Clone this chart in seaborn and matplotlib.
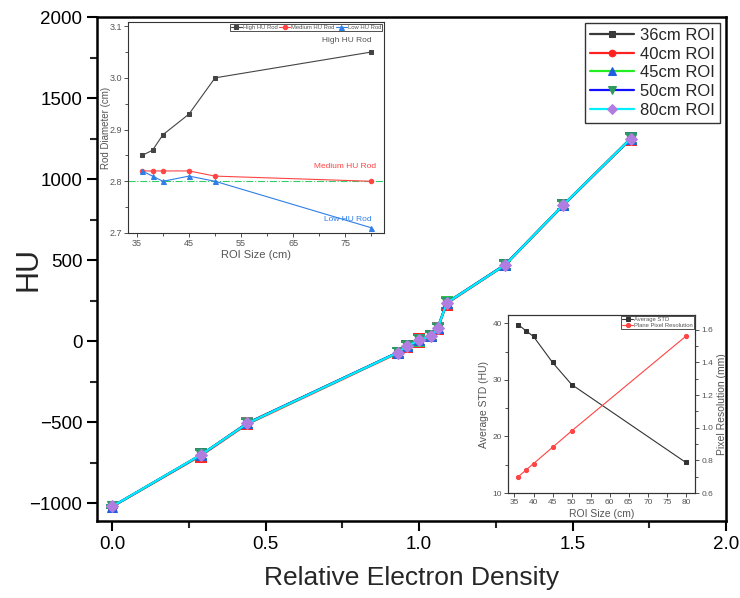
import matplotlib
matplotlib.use("Agg")
import matplotlib.pyplot as plt
import seaborn as sns
from matplotlib.ticker import MultipleLocator

sns.set_theme(style="ticks")
plt.rcParams["font.family"] = ["Liberation Sans", "DejaVu Sans"]

# ---------------- main chart data ----------------
red = [0.00, 0.29, 0.44, 0.93, 0.96, 1.00, 1.04, 1.06, 1.09, 1.28, 1.47, 1.69]
hu_36 = [-1020, -700, -505, -70, -30, 8, 35, 80, 238, 472, 842, 1252]
hu_40 = [-1022, -705, -512, -74, -34, 4, 30, 76, 232, 468, 838, 1248]
hu_45 = [-1021, -702, -508, -71, -31, 6, 33, 78, 236, 470, 840, 1250]
hu_50 = [-1020, -701, -507, -70, -30, 6, 33, 79, 236, 471, 840, 1250]
hu_80 = [-1020, -700, -508, -71, -31, 5, 33, 78, 236, 470, 841, 1250]
err_36 = [10, 35, 30, 30, 30, 35, 30, 30, 35, 30, 30, 35]
err_40 = [10, 38, 32, 32, 32, 38, 32, 32, 38, 32, 32, 38]
err_45 = [10, 34, 29, 29, 29, 34, 29, 29, 34, 29, 29, 34]
err_50 = [10, 33, 28, 28, 28, 33, 28, 28, 33, 28, 28, 33]
err_80 = [10, 30, 26, 26, 26, 30, 26, 26, 30, 26, 26, 30]
series_labels = ["36cm ROI", "40cm ROI", "45cm ROI", "50cm ROI", "80cm ROI"]

# ---------------- inset 1 data ----------------
roi = [36, 38, 40, 45, 50, 80]
high_rod = [2.85, 2.86, 2.89, 2.93, 3.00, 3.05]
medium_rod = [2.82, 2.82, 2.82, 2.82, 2.81, 2.80]
low_rod = [2.82, 2.81, 2.80, 2.81, 2.80, 2.71]
nominal_diameter = 2.80

# ---------------- inset 2 data ----------------
avg_std = [39.8, 38.7, 37.7, 33.1, 29.2, 15.4]
pixel_res = [0.70, 0.74, 0.78, 0.88, 0.98, 1.56]

fig = plt.figure(figsize=(7.4, 5.98), dpi=100)
L, R, T, B = 97, 726, 17, 521
ax = fig.add_axes([L / 740, 1 - B / 598, (R - L) / 740, (B - T) / 598])

styles = [
    (hu_36, err_36, "#3a3a3a", "s", "#3a3a3a", "#7a7a7a", 6),
    (hu_40, err_40, "#ff2020", "o", "#ff2020", "#ff2020", 6),
    (hu_45, err_45, "#22ee22", "^", "#1f5fe0", "#22cc44", 7),
    (hu_50, err_50, "#1010ff", "v", "#2f9a5a", "#2f8a6a", 7),
    (hu_80, err_80, "#00f0ff", "D", "#b07ee0", "#2f9a7a", 6),
]
for (hu, err, lc, mk, mfc, ec, ms), lab in zip(styles, series_labels):
    ax.errorbar(red, hu, yerr=err, fmt="none", ecolor=ec,
                capsize=4, elinewidth=1, capthick=1.4, zorder=2)
    sns.lineplot(x=red, y=hu, ax=ax, color=lc, marker=mk, markersize=ms,
                 markerfacecolor=mfc, markeredgecolor=mfc, linewidth=1.6,
                 label=lab, sort=False, estimator=None, zorder=3)

ax.set_xlim(-0.05, 2.0)
ax.set_ylim(-1110, 2000)
ax.xaxis.set_major_locator(MultipleLocator(0.5))
ax.xaxis.set_minor_locator(MultipleLocator(0.25))
ax.yaxis.set_major_locator(MultipleLocator(500))
ax.yaxis.set_minor_locator(MultipleLocator(250))
ax.tick_params(which="major", direction="out", length=7, width=1.5, labelsize=13.5, colors="black")
ax.tick_params(which="minor", direction="out", length=5, width=1.5)
ax.xaxis.set_major_formatter(matplotlib.ticker.FormatStrFormatter("%.1f"))
ax.yaxis.set_major_formatter(matplotlib.ticker.FuncFormatter(lambda v, p: f"{int(v)}".replace("-", "\u2212")))
for s in ax.spines.values():
    s.set_linewidth(1.8)
    s.set_color("black")
ax.set_xlabel("Relative Electron Density", fontsize=19, labelpad=10)
ax.set_ylabel("HU", fontsize=22)
ax.yaxis.set_label_coords(-0.085, 0.5)
leg = ax.legend(loc="upper right", fontsize=12, frameon=True, fancybox=False,
                edgecolor="#333333", framealpha=1, borderaxespad=0.35, markerscale=0.8,
                handlelength=2.6, labelspacing=0.22, borderpad=0.3, handletextpad=0.4)
leg.get_frame().set_linewidth(1.0)

# ---------------- inset 1 ----------------
gray = "#555555"
ax1 = fig.add_axes([128 / 740, 1 - 233 / 598, 256 / 740, 211 / 598])
ax1.axhline(nominal_diameter, color="#33cc66", ls="-.", lw=0.8, zorder=1)
sns.lineplot(x=roi, y=high_rod, ax=ax1, color="#444444", marker="s", markersize=3.2,
             markeredgecolor="#444444", linewidth=0.8, label="High HU Rod", estimator=None)
sns.lineplot(x=roi, y=medium_rod, ax=ax1, color="#ff4444", marker="o", markersize=3.2,
             markeredgecolor="#ff4444", linewidth=0.8, label="Medium HU Rod", estimator=None)
sns.lineplot(x=roi, y=low_rod, ax=ax1, color="#2f7fe8", marker="^", markersize=3.6,
             markeredgecolor="#2f7fe8", linewidth=0.8, label="Low HU Rod", estimator=None)
ax1.set_xlim(33.3, 82.4)
ax1.set_ylim(2.7, 3.108)
ax1.set_xticks([35, 45, 55, 65, 75])
ax1.xaxis.set_minor_locator(MultipleLocator(5))
ax1.yaxis.set_major_locator(MultipleLocator(0.1))
ax1.yaxis.set_minor_locator(MultipleLocator(0.05))
ax1.tick_params(which="major", direction="out", length=3, width=0.6, labelsize=6.5,
                colors="#333333", labelcolor=gray, pad=1.5)
ax1.tick_params(which="minor", direction="out", length=2, width=0.6, colors="#333333")
for s in ax1.spines.values():
    s.set_linewidth(0.8)
    s.set_color("#333333")
ax1.set_xlabel("ROI Size (cm)", fontsize=8, color=gray, labelpad=1)
ax1.set_ylabel("Rod Diameter (cm)", fontsize=7, color=gray)
ax1.yaxis.set_label_coords(-0.068, 0.5)
ax1.text(80, 3.065, "High HU Rod", fontsize=6, color="#555555", ha="right", va="bottom")
ax1.text(80.8, 2.821, "Medium HU Rod", fontsize=6, color="#ff4444", ha="right", va="bottom")
ax1.text(80, 2.72, "Low HU Rod", fontsize=6, color="#2f7fe8", ha="right", va="bottom")
l1 = ax1.legend(loc="upper right", ncol=3, fontsize=4.2, frameon=True, fancybox=False,
                edgecolor="#333333", framealpha=1, handlelength=1.8, columnspacing=0.3,
                handletextpad=0.2, borderpad=0.2, borderaxespad=0.3)
l1.get_frame().set_linewidth(0.6)
for t in l1.get_texts():
    t.set_color(gray)

# ---------------- inset 2 ----------------
ax2 = fig.add_axes([508 / 740, 1 - 493 / 598, 187 / 740, 178 / 598])
ax2r = ax2.twinx()
sns.lineplot(x=roi, y=avg_std, ax=ax2, color="#333333", marker="s", markersize=3,
             markeredgecolor="#333333", linewidth=0.8, label="Average STD", estimator=None,
             legend=False)
sns.lineplot(x=roi, y=pixel_res, ax=ax2r, color="#ff4444", marker="o", markersize=3,
             markeredgecolor="#ff4444", linewidth=0.8, label="Plane Pixel Resolution",
             estimator=None, legend=False)
ax2.set_xlim(33.3, 82.4)
ax2.set_ylim(10, 41.5)
ax2r.set_ylim(0.6, 1.69)
ax2.xaxis.set_major_locator(MultipleLocator(5))
ax2.yaxis.set_major_locator(MultipleLocator(10))
ax2.yaxis.set_minor_locator(MultipleLocator(5))
ax2r.yaxis.set_major_locator(MultipleLocator(0.2))
ax2r.yaxis.set_minor_locator(MultipleLocator(0.1))
for a in (ax2, ax2r):
    a.tick_params(which="major", direction="out", length=3, width=0.6, labelsize=6,
                  colors="#333333", labelcolor=gray, pad=1.5)
    a.tick_params(which="minor", direction="out", length=2, width=0.6, colors="#333333")
    for s in a.spines.values():
        s.set_linewidth(0.8)
        s.set_color("#333333")
ax2.set_xlabel("ROI Size (cm)", fontsize=7.5, color=gray, labelpad=2)
ax2.set_ylabel("Average STD (HU)", fontsize=7.5, color=gray, labelpad=2)
ax2r.set_ylabel("Pixel Resolution (mm)", fontsize=7.5, color=gray, labelpad=3)
h1, lb1 = ax2.get_legend_handles_labels()
h2, lb2 = ax2r.get_legend_handles_labels()
l2 = ax2r.legend(h1 + h2, lb1 + lb2, loc="upper right", fontsize=4.2, frameon=True,
                 fancybox=False, edgecolor="#333333", framealpha=1, handlelength=1.8,
                 handletextpad=0.2, borderpad=0.2, borderaxespad=0.2, labelspacing=0.1)
l2.get_frame().set_linewidth(0.6)
for t in l2.get_texts():
    t.set_color(gray)

fig.savefig("out.png", dpi=100, facecolor="white")
